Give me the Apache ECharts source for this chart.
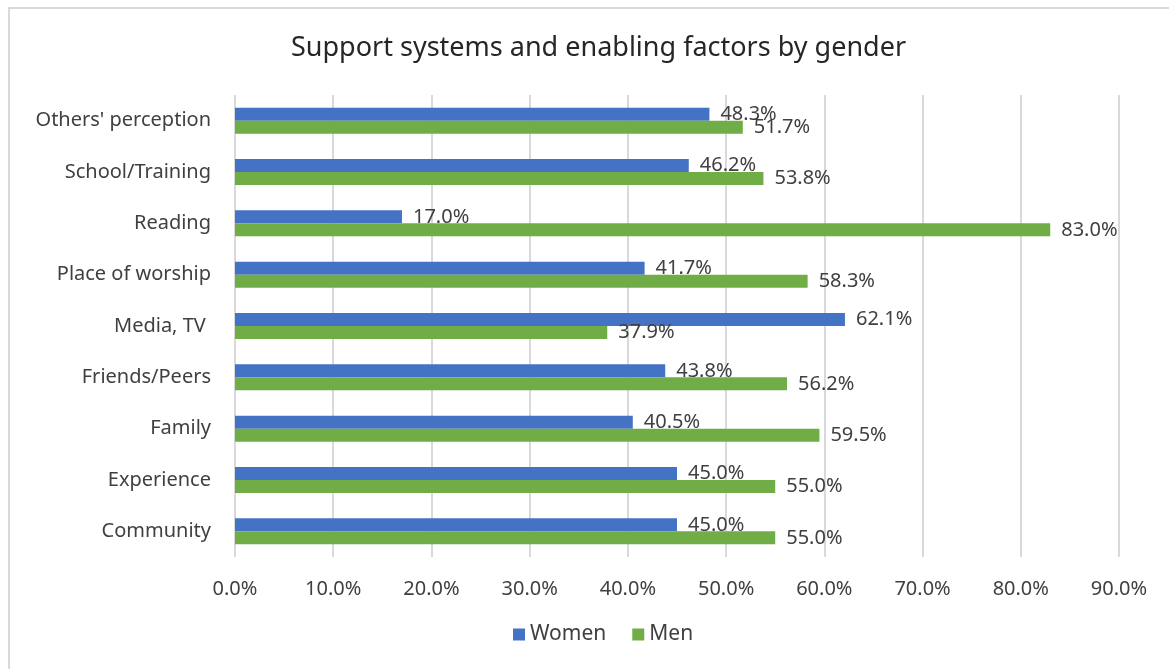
<!DOCTYPE html>
<html>
<head>
<meta charset="utf-8">
<script src="https://cdn.jsdelivr.net/npm/echarts@6/dist/echarts.min.js"></script>
<style>
  html, body { margin: 0; padding: 0; background: #fff; }
  #chart { width: 1169px; height: 669px; }
</style>
</head>
<body>
<div id="chart"></div>
<script>
// Categories listed bottom to top along the value axis
const categories = ['Community', 'Experience', 'Family', 'Friends/Peers', 'Media, TV ', 'Place of worship', 'Reading', 'School/Training', "Others' perception"];
const women = [45.0, 45.0, 40.5, 43.8, 62.1, 41.7, 17.0, 46.2, 48.3];
const men = [55.0, 55.0, 59.5, 56.2, 37.9, 58.3, 83.0, 53.8, 51.7];
const axisTicks = [0, 10, 20, 30, 40, 50, 60, 70, 80, 90];

const FONT = '"Noto Sans", "Open Sans", sans-serif';
const TEXT = '#404040';

const chart = echarts.init(document.getElementById('chart'), null, { renderer: 'canvas' });

const labelCfg = {
  show: true,
  position: 'right',
  distance: 11,
  color: TEXT,
  fontSize: 20,
  fontFamily: FONT,
  formatter: p => p.value.toFixed(1) + '%'
};

chart.setOption({
  backgroundColor: '#fff',
  animation: false,
  title: {
    text: 'Support systems and enabling factors by gender',
    left: 286,
    top: 30,
    textStyle: { color: '#262626', fontSize: 27, fontWeight: 'normal', fontFamily: FONT }
  },
  graphic: [{
    type: 'rect',
    shape: { x: 9, y: 8, width: 1200, height: 700 },
    style: { fill: 'none', stroke: '#d9d9d9', lineWidth: 2 },
    silent: true
  }],
  legend: {
    data: ['Women', 'Men'],
    bottom: 19,
    left: 508,
    itemWidth: 12,
    itemHeight: 12,
    itemGap: 26,
    icon: 'rect',
    textStyle: { color: TEXT, fontSize: 21, fontFamily: FONT }
  },
  grid: { left: 235, right: 50, top: 95, bottom: 112, containLabel: false },
  xAxis: {
    type: 'value',
    min: axisTicks[0],
    max: axisTicks[axisTicks.length - 1],
    interval: axisTicks[1] - axisTicks[0],
    axisLine: { show: false },
    axisTick: { show: false },
    splitLine: { show: true, lineStyle: { color: '#d9d9d9', width: 2 } },
    axisLabel: {
      color: TEXT, fontSize: 20, fontFamily: FONT, margin: 22,
      formatter: v => v.toFixed(1) + '%'
    }
  },
  yAxis: {
    type: 'category',
    data: categories,
    axisLine: { show: false },
    axisTick: { show: false },
    axisLabel: { color: TEXT, fontSize: 20, fontFamily: FONT, margin: 24 }
  },
  series: [
    {
      name: 'Women', type: 'bar', data: women, barWidth: 13, barGap: '0%',
      itemStyle: { color: '#4472C4' }, label: labelCfg
    },
    {
      name: 'Men', type: 'bar', data: men, barWidth: 13, barGap: '0%',
      itemStyle: { color: '#70AD47' }, label: labelCfg
    }
  ]
});
</script>
</body>
</html>
